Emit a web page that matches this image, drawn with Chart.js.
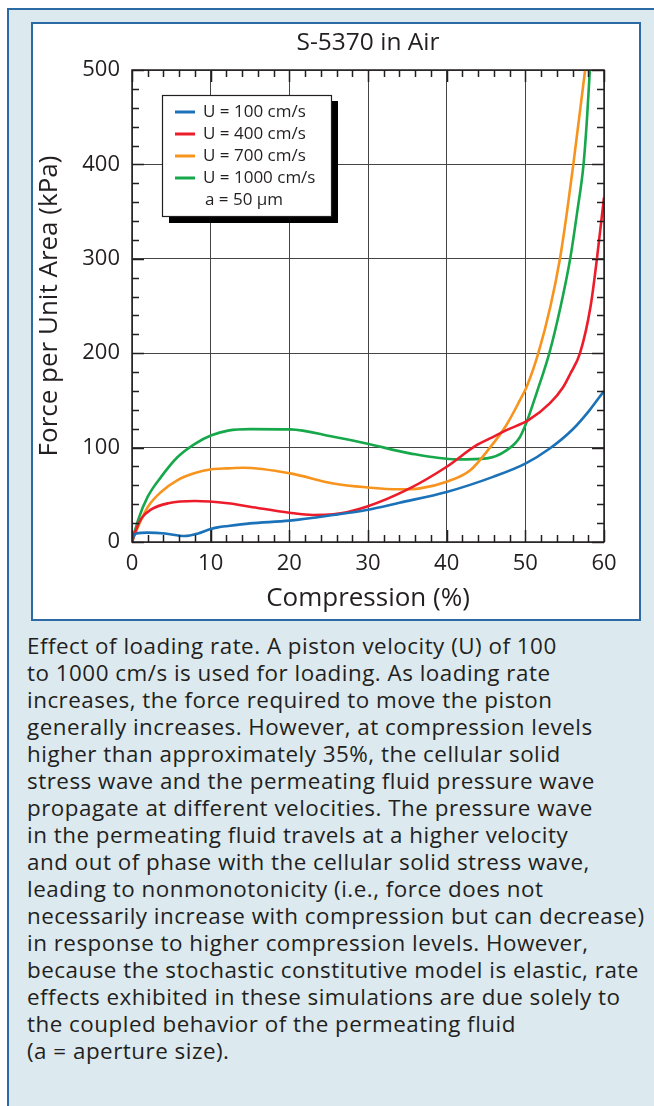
<!DOCTYPE html>
<html>
<head>
<meta charset="utf-8">
<script src="https://cdn.jsdelivr.net/npm/chart.js@4.4.1/dist/chart.umd.min.js"></script>
<style>
  body { margin: 0; width: 654px; height: 1106px; position: relative; overflow: hidden; background: #fff; font-family: "Open Sans", sans-serif; }
  #frame { position: absolute; left: 7px; top: 8px; width: 700px; height: 1200px; background: #dceaf0; border: 2px solid #2c6aa6; }
  #box { position: absolute; left: 31px; top: 22px; width: 606px; height: 595px; background: #fff; border: 2px solid #2c6aa6; }
  #box canvas { position: absolute; left: 0; top: 0; }
  #caption { position: absolute; left: 27px; top: 632px; font-size: 22.4px; letter-spacing: 0.5px; line-height: 27px; color: #231f20; white-space: nowrap; }
</style>
</head>
<body>
<div id="frame"></div>
<div id="box"><canvas id="chart" width="606" height="595"></canvas></div>
<div id="caption">
Effect of loading rate. A piston velocity (U) of 100<br>
to 1000 cm/s is used for loading. As loading rate<br>
increases, the force required to move the piston<br>
generally increases. However, at compression levels<br>
higher than approximately 35%, the cellular solid<br>
stress wave and the permeating fluid pressure wave<br>
propagate at different velocities. The pressure wave<br>
in the permeating fluid travels at a higher velocity<br>
and out of phase with the cellular solid stress wave,<br>
leading to nonmonotonicity (i.e., force does not<br>
necessarily increase with compression but can decrease)<br>
in response to higher compression levels. However,<br>
because the stochastic constitutive model is elastic, rate<br>
effects exhibited in these simulations are due solely to<br>
the coupled behavior of the permeating fluid<br>
(a = aperture size).
</div>
<script>
// Compression (%) and force (kPa), one pair of arrays per velocity
const comp100 = [0, 0.1, 0.55, 2, 4.2, 6.7, 8.4, 9.9, 10.9, 12.2, 15, 20, 25.6, 29.8, 34, 40, 45.9, 50, 53.1, 56.1, 58.2, 60];
const force100 = [0, 4, 9, 9.9, 9, 6.3, 9, 13.4, 15.5, 17, 19.7, 22.6, 28.6, 33.9, 41.6, 53, 69, 83, 99, 120, 140, 160];

const comp400 = [0, 0.34, 1.2, 2.45, 4.6, 8, 12.2, 15, 20, 23, 25.6, 29.8, 35.3, 40, 43.8, 45.5, 47.6, 50.4, 53.1, 54.8, 55.7, 56.95, 58.3, 59.1, 60];
const force400 = [0, 9, 25, 34.6, 41, 43.4, 41, 37.4, 31, 28.6, 29.3, 37.4, 56.8, 79.7, 102.6, 109.7, 118.5, 129, 146.8, 164, 178, 200, 250, 300, 365];

const comp700 = [0, 0.76, 2, 3.7, 5.8, 8, 10.1, 12.2, 14.1, 20.1, 25.6, 29.8, 34, 36.6, 40, 43, 45.5, 47.6, 49.3, 50.2, 51.65, 53.2, 54.4, 55.3, 56.1, 57.6];
const force700 = [0, 16, 37, 53, 65.6, 73, 77, 78, 78.6, 72.7, 62, 57.9, 55.8, 56.8, 63.8, 76, 100, 124, 150, 165, 200, 250, 300, 350, 400, 500];

const comp1000 = [0, 0.76, 2, 3.7, 5.8, 8, 10.1, 12.2, 15, 20.1, 25.6, 29.8, 35.3, 41.3, 45.1, 47.6, 49.3, 50.25, 51.4, 53.05, 54.5, 55.7, 56.6, 57.4, 57.85, 58.2];
const force1000 = [0, 23, 48, 69, 90, 104, 113, 118, 119.6, 119.3, 111.4, 104.4, 93.9, 87.5, 88.6, 97, 111, 129, 157, 200, 250, 300, 350, 400, 450, 500];

const seriesLabels = ['U = 100 cm/s', 'U = 400 cm/s', 'U = 700 cm/s', 'U = 1000 cm/s'];
const seriesColors = ['#1b72b8', '#ec1c2a', '#f7941d', '#17a84b'];
const legendNote = 'a = 50 \u00b5m';

const xMin = 0, xMax = 60, xMajor = 10, xMinor = 2;
const yMin = 0, yMax = 500, yMajor = 100, yMinor = 20;

const FONT = '"Open Sans", sans-serif';
const INK = '#231f20';

function toPoints(xs, ys) {
    return xs.map((x, i) => ({ x: x, y: ys[i] }));
}

// inside ticks on all four sides plus the black frame
const frameTicks = {
    id: 'frameTicks',
    afterDatasetsDraw(chart) {
        const { ctx, chartArea: a, scales: { x, y } } = chart;
        ctx.save();
        ctx.strokeStyle = INK;
        ctx.lineWidth = 1.5;
        ctx.beginPath();
        for (let v = xMin; v <= xMax; v += xMinor) {
            const px = Math.round(x.getPixelForValue(v)) + 0.5;
            const len = v % xMajor === 0 ? 12 : 7;
            ctx.moveTo(px, a.bottom); ctx.lineTo(px, a.bottom - len);
            ctx.moveTo(px, a.top); ctx.lineTo(px, a.top + len);
        }
        for (let v = yMin; v <= yMax; v += yMinor) {
            const py = Math.round(y.getPixelForValue(v)) + 0.5;
            const len = v % yMajor === 0 ? 12 : 7;
            ctx.moveTo(a.left, py); ctx.lineTo(a.left + len, py);
            ctx.moveTo(a.right, py); ctx.lineTo(a.right - len, py);
        }
        ctx.stroke();
        ctx.strokeRect(a.left, a.top, a.right - a.left, a.bottom - a.top);
        ctx.restore();
    }
};

// boxed legend with drop shadow
const boxLegend = {
    id: 'boxLegend',
    afterDatasetsDraw(chart) {
        const { ctx, chartArea: a } = chart;
        const bx = a.left + 30, by = a.top + 25, bw = 169, bh = 121;
        ctx.save();
        ctx.fillStyle = '#000';
        ctx.fillRect(bx + 7, by + 6, bw, bh + 1);
        ctx.fillStyle = '#fff';
        ctx.fillRect(bx, by, bw, bh);
        ctx.strokeStyle = INK;
        ctx.lineWidth = 1.2;
        ctx.strokeRect(bx + 0.5, by + 0.5, bw, bh);
        ctx.font = '17px ' + FONT;
        ctx.textBaseline = 'middle';
        ctx.fillStyle = INK;
        chart.data.datasets.forEach((ds, i) => {
            const ry = by + 17 + i * 22;
            ctx.strokeStyle = ds.borderColor;
            ctx.lineWidth = 3;
            ctx.beginPath();
            ctx.moveTo(bx + 13, ry); ctx.lineTo(bx + 33, ry);
            ctx.stroke();
            ctx.fillText(ds.label, bx + 41, ry);
        });
        ctx.fillText(legendNote, bx + 43, by + 17 + 4 * 22);
        ctx.restore();
    }
};

const comps = [comp100, comp400, comp700, comp1000];
const forces = [force100, force400, force700, force1000];

new Chart(document.getElementById('chart'), {
    type: 'line',
    data: {
        datasets: seriesLabels.map((label, i) => ({
            label: label,
            data: toPoints(comps[i], forces[i]),
            borderColor: seriesColors[i],
            borderWidth: 2.6,
            pointRadius: 0,
            fill: false,
            cubicInterpolationMode: 'monotone'
        }))
    },
    options: {
        responsive: false,
        animation: false,
        devicePixelRatio: 1,
        layout: { padding: { left: 0, right: 35, top: 0, bottom: 0 } },
        plugins: {
            legend: { display: false },
            tooltip: { enabled: false },
            title: {
                display: true,
                fullSize: false,
                text: 'S-5370 in Air',
                color: INK,
                font: { family: FONT, size: 24.5, weight: 'normal' },
                padding: { top: 4, bottom: 12.6 }
            }
        },
        scales: {
            x: {
                type: 'linear',
                min: xMin, max: xMax,
                afterFit(scale) { scale.height = 77; },
                border: { display: false },
                grid: { color: '#444', lineWidth: 1, borderDash: [1, 2], drawTicks: false },
                ticks: { stepSize: xMajor, color: INK, padding: 9, font: { family: FONT, size: 22 } },
                title: { display: true, text: 'Compression (%)', color: INK, font: { family: FONT, size: 26 }, padding: { top: 2, bottom: 5 } }
            },
            y: {
                type: 'linear',
                min: yMin, max: yMax,
                afterFit(scale) { scale.width = 99; },
                border: { display: false },
                grid: { color: '#444', lineWidth: 1, borderDash: [1, 2], drawTicks: false },
                ticks: { stepSize: yMajor, color: INK, padding: 12, font: { family: FONT, size: 22 } },
                title: { display: true, text: 'Force per Unit Area (kPa)', color: INK, font: { family: FONT, size: 26 }, padding: { top: 1, bottom: 0 } }
            }
        }
    },
    plugins: [frameTicks, boxLegend]
});
</script>
</body>
</html>
